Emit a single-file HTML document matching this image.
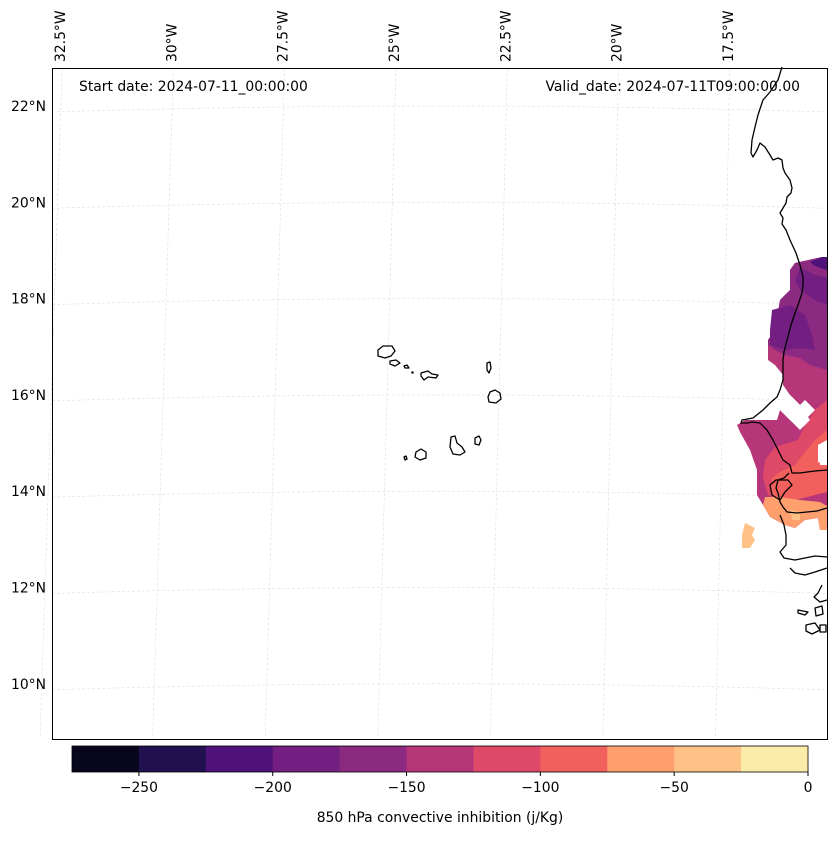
<!DOCTYPE html>
<html><head><meta charset="utf-8"><style>
body{margin:0;background:#fff;font-family:"Liberation Sans","DejaVu Sans",sans-serif;}
svg text{font-family:"DejaVu Sans","Liberation Sans",sans-serif;font-size:13.9px;fill:#000}
</style></head><body>
<svg id="chart" width="837" height="836" xmlns="http://www.w3.org/2000/svg">
<g id="grid"></g>
<g id="fills"></g>
<g id="coast" fill="none" stroke="#000" stroke-width="1.3" stroke-linejoin="round"></g>
<rect x="52.5" y="68.5" width="775" height="671" fill="none" stroke="#000" stroke-width="1"/>
<text x="79" y="91">Start date: 2024-07-11_00:00:00</text>
<text x="800" y="91" text-anchor="end">Valid_date: 2024-07-11T09:00:00.00</text>
<g id="latlabels"></g>
<g id="lonlabels"></g>
<g id="cbar"></g>
<text x="440" y="822" text-anchor="middle">850 hPa convective inhibition (j/Kg)</text>
</svg>
<script>
const levels=[-275,-250,-225,-200,-175,-150,-125,-100,-75,-50,-25,0];
const levelColors=["#07061c","#221150","#4f127b","#721f81","#8c2981","#b63679","#de4968","#f1605d","#fe9f6d","#fec287","#fcecaa"];
const cbarTicks=[-250,-200,-150,-100,-50,0];
const latTicks=[22,20,18,16,14,12,10];
const lonTicks=[32.5,30,27.5,25,22.5,20,17.5];
const NS="http://www.w3.org/2000/svg";
function mk(tag,attrs,parent){const e=document.createElementNS(NS,tag);for(const k in attrs)e.setAttribute(k,attrs[k]);parent.appendChild(e);return e;}
const yLat=lat=>106+(22-lat)*48.15;
const xLonTop=lon=>60+(32.5-lon)*44.53;
const xLonBot=lon=>xLonTop(lon)-20+(32.5-lon)*0.5;
const cx=v=>72+(v-(-275))*(736/275);
const grid=document.getElementById('grid');
latTicks.forEach(l=>{const y=yLat(l);
 const p=mk('path',{d:`M52,${y+6} Q440,${y-6} 827,${y+6}`,fill:'none',stroke:'#ddd','stroke-width':0.6,'stroke-dasharray':'3,2'},grid);
 
 const t=mk('text',{x:46,y:y+5,'text-anchor':'end'},document.getElementById('latlabels'));t.textContent=l+'°N';
 });
lonTicks.forEach(l=>{const x=xLonTop(l);
 const p=mk('line',{x1:x+2,y1:68,x2:xLonBot(l),y2:739,stroke:'#ddd','stroke-width':0.6,'stroke-dasharray':'3,2'},grid);
 
 const t=mk('text',{x:x+5,y:62,transform:`rotate(-90 ${x+5} 62)`},document.getElementById('lonlabels'));t.textContent=l+'°W';
 });
const cb=document.getElementById('cbar');
for(let i=0;i<levelColors.length;i++){
 const r=mk('rect',{x:cx(levels[i]),y:746,width:cx(levels[i+1])-cx(levels[i])+0.5,height:26,fill:levelColors[i]},cb);
 }
mk('rect',{x:72,y:746,width:736,height:26,fill:'none',stroke:'#000','stroke-width':0.8},cb);
cbarTicks.forEach(v=>{const x=cx(v);mk('line',{x1:x,y1:772,x2:x,y2:776,stroke:'#000'},cb);
 const t=mk('text',{x:x,y:792,'text-anchor':'middle'},cb);t.textContent=(v<0?'−'+(-v):v);
 });
const f=document.getElementById('fills');
const polys=[
 [5,"795,263 822,257 827,257 827,445 820,450 820,465 827,465 827,530 820,530 818,518 805,520 795,528 785,525 770,517 763,505 757,495 757,470 750,450 740,432 737,425 745,420 777,420 780,410 790,420 800,405 790,395 783,385 783,375 775,365 768,360 768,340 775,330 780,300 790,290 790,270"],
 [4,"795,263 822,257 827,257 827,370 810,365 800,358 785,355 775,350 768,345 768,340 775,330 780,300 790,290 790,270"],
 [3,"772,310 790,305 805,315 812,335 815,350 800,348 785,350 770,345 770,330"],
 [3,"800,268 815,275 827,278 827,305 815,300 800,290 795,280"],
 [2,"810,262 822,257 827,257 827,270 815,266"],
 [6,"827,400 815,410 805,425 798,440 775,447 765,460 763,478 768,495 780,500 800,495 827,490 827,465 820,465 820,450 827,445"],
 [7,"827,430 815,440 805,452 795,465 780,472 772,478 770,490 775,500 795,500 815,495 827,492 827,465 820,465 820,450 827,445"],
 [8,"765,497 780,497 800,500 820,502 827,506 827,530 820,530 818,518 805,520 795,528 785,525 770,517 763,505"],
 [9,"745,523 755,528 752,535 755,540 750,548 742,548 742,535"],
 [9,"790,510 800,512 800,520 792,520"]
];
polys.forEach(p=>{const e=mk('polygon',{points:p[1],fill:levelColors[p[0]]},f);
 });
[["790,395 800,405 810,420 800,430 790,420 780,410"],["818,445 827,440 827,465 818,462"],["795,410 805,400 815,410 805,420"]].forEach(p=>{
 const e=mk('polygon',{points:p[0],fill:'#fff'},f);});
const c=document.getElementById('coast');
const coastPaths=[
 "M782,67 L778,80 770,92 763,100 758,115 755,127 752,140 751,153 753,157 757,150 760,143 765,147 770,155 773,160 778,158 782,160 783,168 785,173 790,180 792,188 791,193 787,197 786,203 783,208 780,213 783,218 782,224 786,230 790,240 796,253 800,265 803,277 803,285 802,293 798,305 795,313 791,325 787,340 784,352 783,360 783,370 783,380 780,390 777,397 770,403 763,410 753,418 742,420 741,423 748,423 752,422 760,423 767,430 773,440 778,450 783,460 790,465 792,473 800,473 807,472 815,471 827,470",
 "M789,473 L784,478 778,480 776,488 778,493 780,502 783,507 787,512 797,513 807,512 817,511 827,508",
 "M780,515 L784,525 786,535 786,545 780,552 784,558 795,560 805,558 815,556 827,557",
 "M790,568 L795,573 805,575 815,572 827,568",
 "M822,585 L818,593 814,597 820,602 827,600",
 "M798,610 L808,612 805,615 798,613 Z",
 "M815,608 L822,606 823,614 816,616 Z",
 "M806,625 L815,623 820,630 812,634 806,631 Z",
 "M820,625 L826,625 826,632 820,632 Z",
 "M776,480 L770,485 772,495 780,500 785,492 792,485 788,480 Z"
];
const islands=[
 "M378,350 L383,346 392,346 395,351 391,356 385,358 378,356 Z",
 "M390,361 L396,360 400,363 395,366 390,364 Z",
 "M404,366 L407,365 409,368 405,368 Z",
 "M412,372 L413,372 413,373 412,373 Z",
 "M421,373 L428,371 432,374 438,375 436,378 428,377 424,380 421,376 Z",
 "M487,363 L490,362 491,368 489,373 487,370 Z",
 "M490,392 L495,390 500,393 501,399 496,403 489,402 488,397 Z",
 "M404,457 L406,456 407,459 405,460 Z",
 "M416,452 L421,449 426,452 426,458 420,460 415,457 Z",
 "M451,437 L455,436 457,443 462,447 465,452 460,455 453,454 450,447 Z",
 "M475,438 L479,436 481,440 479,445 475,444 Z"
];
coastPaths.concat(islands).forEach(d=>{const e=mk('path',{d:d},c);
 });
</script>
</body></html>
